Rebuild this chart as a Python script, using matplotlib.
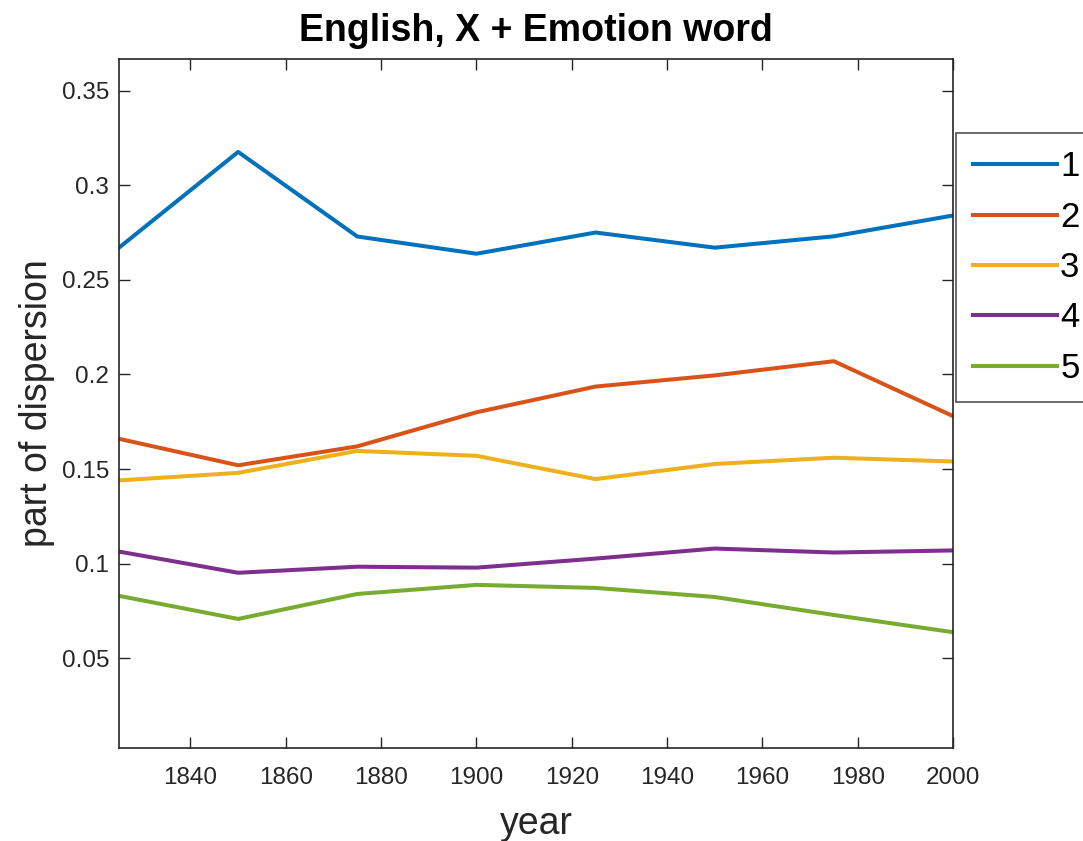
import matplotlib.pyplot as plt

plt.rcParams["font.family"] = ["Liberation Sans", "DejaVu Sans"]

years = [1825, 1850, 1875, 1900, 1925, 1950, 1975, 2000]
comp1 = [0.267, 0.3176, 0.2729, 0.2638, 0.275, 0.267, 0.273, 0.284]
comp2 = [0.166, 0.152, 0.162, 0.180, 0.1936, 0.1995, 0.207, 0.178]
comp3 = [0.144, 0.148, 0.1596, 0.157, 0.1447, 0.1527, 0.156, 0.154]
comp4 = [0.1064, 0.0952, 0.0984, 0.0979, 0.1027, 0.108, 0.1059, 0.107]
comp5 = [0.083, 0.0708, 0.084, 0.0888, 0.0872, 0.0824, 0.0729, 0.0638]
labels = ["1", "2", "3", "4", "5"]
colors = ["#0072BD", "#D95319", "#EDB120", "#7E2F8E", "#77AC30"]

xticks = [1840, 1860, 1880, 1900, 1920, 1940, 1960, 1980, 2000]
yticks = [0.05, 0.1, 0.15, 0.2, 0.25, 0.3, 0.35]
ytick_labels = ["0.05", "0.1", "0.15", "0.2", "0.25", "0.3", "0.35"]

dark = "#262626"

fig = plt.figure(figsize=(10.83, 8.41), dpi=100)
ax = fig.add_axes([119 / 1083, 1 - 748 / 841, 834 / 1083, 689 / 841])

for series, label, color in zip([comp1, comp2, comp3, comp4, comp5], labels, colors):
    ax.plot(years, series, color=color, linewidth=2.9, label=label)

ax.set_xlim(1825, 2000)
ax.set_ylim(0.0026, 0.3667)
ax.set_xticks(xticks)
ax.set_yticks(yticks)
ax.set_yticklabels(ytick_labels)
ax.tick_params(direction="in", length=8, width=1, colors=dark,
               labelsize=17.5, top=True, right=True)
ax.tick_params(axis="x", pad=14)
ax.tick_params(axis="y", pad=7)
for side in ax.spines.values():
    side.set_color(dark)
    side.set_linewidth(1.2)

ax.set_title("English, X + Emotion word", fontsize=27, fontweight="bold",
             color="black", pad=13)
ax.set_xlabel("year", fontsize=27, color=dark, labelpad=12)
ax.set_ylabel("part of dispersion", fontsize=27, color=dark, labelpad=5)

# legend sits right of the axes and runs past the figure edge
leg = fig.legend(loc="upper left", bbox_to_anchor=(956 / 1083, 1 - 133 / 841),
                 fontsize=25, frameon=True, fancybox=False, handlelength=2.4,
                 handletextpad=0.1, labelspacing=0.5, borderpad=0.5,
                 borderaxespad=0)
leg.get_frame().set_edgecolor(dark)
leg.get_frame().set_linewidth(1.2)

fig.savefig("out.png", dpi=100)
